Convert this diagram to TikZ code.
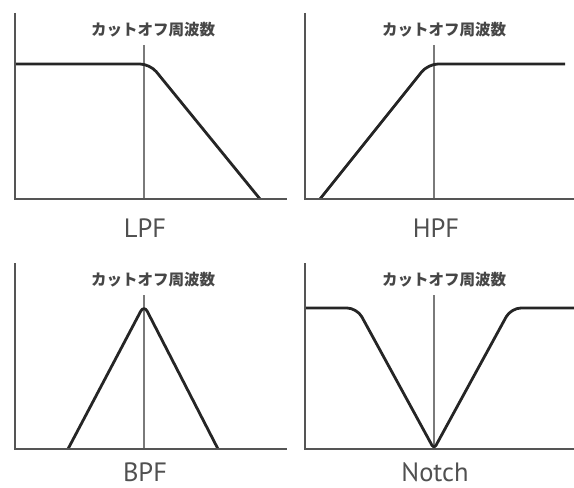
\documentclass[tikz,border=0pt]{standalone}
\usepackage{fontspec}
\newfontfamily\jpfont{Noto Sans CJK JP}
\newfontfamily\lblfont{PT Sans}
\definecolor{axisgray}{HTML}{555555}
\definecolor{curvegray}{HTML}{252525}
\definecolor{cutgray}{HTML}{7A7A7A}
\definecolor{textgray}{HTML}{505050}
\tikzset{
  axisline/.style={draw=axisgray, line width=2.4bp},
  cutline/.style={draw=cutgray, line width=1.1bp},
  curveline/.style={draw=curvegray, line width=2.8bp, line join=round},
  cuttext/.style={font=\jpfont\bfseries\fontsize{15.5bp}{18bp}\selectfont, text=curvegray!85, inner sep=0pt},
  filtername/.style={font=\lblfont\fontsize{26.5bp}{30bp}\selectfont, text=textgray, inner sep=0pt, anchor=base, text height=19bp, text depth=0pt}
}
\begin{document}
\begin{tikzpicture}[x=1bp, y=-1bp]
\useasboundingbox (0,0) rectangle (574,488);
% ---------- LPF ----------
\draw[cutline] (144,45) -- (144,199);
\draw[curveline, rounded corners=10bp] (15,64) -- (150,64) -- (260,199);
\draw[axisline] (15,13) -- (15,199) -- (287,199);
\node[cuttext] (t1) at (153,30) {カットオフ周波数};
\node[filtername] (n1) at (145,237) {LPF};
% ---------- HPF ----------
\draw[cutline] (434,45) -- (434,199);
\draw[curveline, rounded corners=10bp] (320,199) -- (428,64) -- (565,64);
\draw[axisline] (305,13) -- (305,199) -- (574,199);
\node[cuttext] (t2) at (444,30) {カットオフ周波数};
\node[filtername] (n2) at (436,237) {HPF};
% ---------- BPF ----------
\draw[cutline] (144,295) -- (144,449);
\draw[curveline, rounded corners=7bp] (68,449) -- (144,305) -- (218,449);
\draw[axisline] (15,263) -- (15,449) -- (287,449);
\node[cuttext] (t3) at (153,280) {カットオフ周波数};
\node[filtername] (n3) at (145,481) {BPF};
% ---------- Notch ----------
\draw[cutline] (434,295) -- (434,449);
\draw[curveline] (305,308) [rounded corners=10bp] -- (357,308) [rounded corners=4bp] -- (434,449) [rounded corners=10bp] -- (511,308) -- (574,308);
\draw[axisline] (305,263) -- (305,449) -- (574,449);
\node[cuttext] (t4) at (444,280) {カットオフ周波数};
\node[filtername] (n4) at (435,481) {Notch};
\end{tikzpicture}
\end{document}
